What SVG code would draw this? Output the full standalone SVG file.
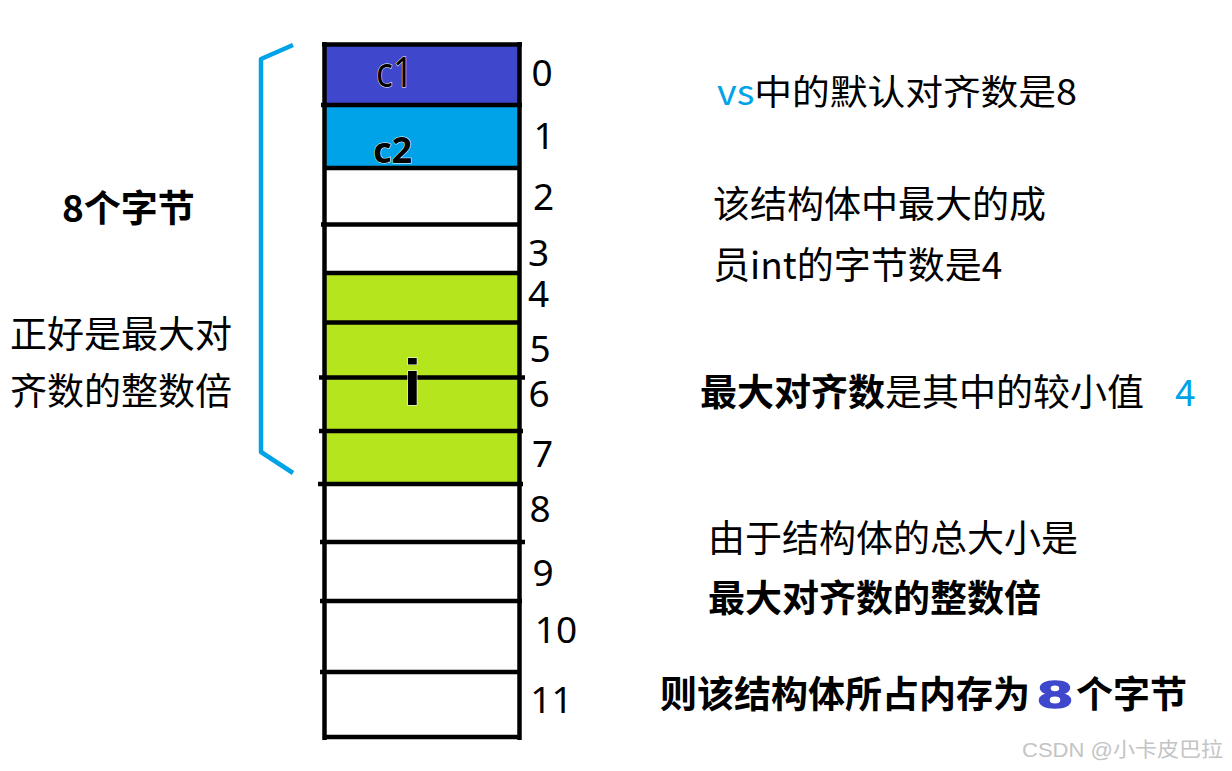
<svg xmlns="http://www.w3.org/2000/svg" width="1232" height="771" viewBox="0 0 1232 771">
<style>
.cjk{font-family:"Noto Sans CJK SC","Noto Sans",sans-serif;fill:#000;}
.b{font-weight:700;}
.num{font-family:"Noto Sans","Noto Sans CJK SC",sans-serif;font-size:37px;fill:#000;text-anchor:middle;}
.ln{stroke:#000;stroke-width:4.5;fill:none;}
.blue{fill:#00A2E8;}
.indigo{fill:#3F48CC;}
</style>
<rect width="1232" height="771" fill="#fff"/>
<g id="cells">
<g id="cell0"><rect x="324.5" y="44.5" width="195" height="60.5" fill="#3F48CC"/></g>
<g id="cell1"><rect x="324.5" y="105" width="195" height="63" fill="#00A2E8"/></g>
<g id="cell2-3"><rect x="324.5" y="168" width="195" height="105" fill="#fff"/></g>
<g id="cell4-7"><rect x="324.5" y="273" width="195" height="211" fill="#B5E61D"/></g>
<g id="cell8-11"><rect x="324.5" y="484" width="195" height="253" fill="#fff"/></g>
</g>
<g id="grid">
<line class="ln" x1="324.5" y1="42" x2="324.5" y2="740"/>
<line class="ln" x1="519.5" y1="42" x2="519.5" y2="740"/>
<line class="ln" x1="322" y1="44.5" x2="522" y2="44.5"/>
<line class="ln" x1="321" y1="105" x2="522" y2="105"/>
<line class="ln" x1="324" y1="168" x2="520" y2="168"/>
<line class="ln" x1="321" y1="224.5" x2="521" y2="224.5"/>
<line class="ln" x1="324" y1="273" x2="520" y2="273"/>
<line class="ln" x1="324" y1="322.5" x2="520" y2="322.5"/>
<line class="ln" x1="319" y1="377.5" x2="525" y2="377.5"/>
<line class="ln" x1="319" y1="431" x2="523" y2="431"/>
<line class="ln" x1="318" y1="484" x2="523" y2="484"/>
<line class="ln" x1="320" y1="542" x2="525" y2="542"/>
<line class="ln" x1="320" y1="601" x2="522" y2="601"/>
<line class="ln" x1="320" y1="672" x2="520" y2="672"/>
<line class="ln" x1="324" y1="737" x2="520" y2="737"/>
</g>
<g id="labels">
<g id="label-c1"><text x="376" y="87" font-family="Noto Sans, sans-serif" font-size="41" textLength="37" lengthAdjust="spacingAndGlyphs" fill="#000" stroke="#fff" stroke-width="1" paint-order="stroke">c1</text></g>
<g id="label-c2"><text x="373" y="163" font-family="Noto Sans, sans-serif" font-size="36" font-weight="700" fill="#000" stroke="#fff" stroke-width="1" paint-order="stroke">c2</text></g>
<g id="label-i"><text x="412.5" y="405" font-family="Liberation Sans, sans-serif" font-size="64" font-weight="700" text-anchor="middle" fill="#000" stroke="#fff" stroke-width="1" paint-order="stroke">i</text></g>
</g>
<g id="indices">
<text class="num" x="542" y="86">0</text>
<text class="num" x="544" y="149">1</text>
<text class="num" x="543.5" y="210">2</text>
<text class="num" x="538.5" y="266">3</text>
<text class="num" x="538.5" y="307">4</text>
<text class="num" x="540" y="362">5</text>
<text class="num" x="539" y="407">6</text>
<text class="num" x="542.5" y="467">7</text>
<text class="num" x="540" y="522">8</text>
<text class="num" x="543" y="586">9</text>
<text class="num" x="556" y="643">10</text>
<text class="num" x="551.5" y="713">11</text>
</g>
<g id="bracket">
<polyline points="293,45 261,59 261,452 293,473" fill="none" stroke="#00A2E8" stroke-width="4.5" stroke-linejoin="round"/>
</g>
<g id="left-notes">
<text class="cjk b" x="62" y="222" font-size="37">8个字节</text>
<text class="cjk" x="10" y="348" font-size="37">正好是最大对</text>
<text class="cjk" x="10" y="405" font-size="37">齐数的整数倍</text>
</g>
<g id="right-notes">
<text class="cjk" x="717" y="105" font-size="35" textLength="360" lengthAdjust="spacingAndGlyphs"><tspan class="blue">vs</tspan>中的默认对齐数是8</text>
<text class="cjk" x="713" y="218" font-size="37">该结构体中最大的成</text>
<text class="cjk" x="713" y="279" font-size="37">员int的字节数是4</text>
<text class="cjk" x="700" y="406" font-size="37"><tspan font-weight="700">最大对齐数</tspan>是其中的较小值</text>
<text class="cjk blue" x="1175" y="406" font-size="37">4</text>
<text class="cjk" x="708" y="552" font-size="37">由于结构体的总大小是</text>
<text class="cjk b" x="708" y="612" font-size="37">最大对齐数的整数倍</text>
<text class="cjk b" x="660" y="708" font-size="37">则该结构体所占内存为</text>
<text x="1038" y="708" font-family="Liberation Sans, sans-serif" font-weight="700" font-size="39" textLength="34" lengthAdjust="spacingAndGlyphs" fill="#3F48CC" stroke="#3F48CC" stroke-width="1.5">8</text>
<text class="cjk b" x="1076" y="708" font-size="37">个字节</text>
</g>
<g id="watermark">
<text x="1022" y="757" font-family="Liberation Sans, Noto Sans CJK SC, sans-serif" font-size="20" textLength="201" lengthAdjust="spacingAndGlyphs" fill="#c4c4c4">CSDN @小卡皮巴拉</text>
</g>
</svg>
